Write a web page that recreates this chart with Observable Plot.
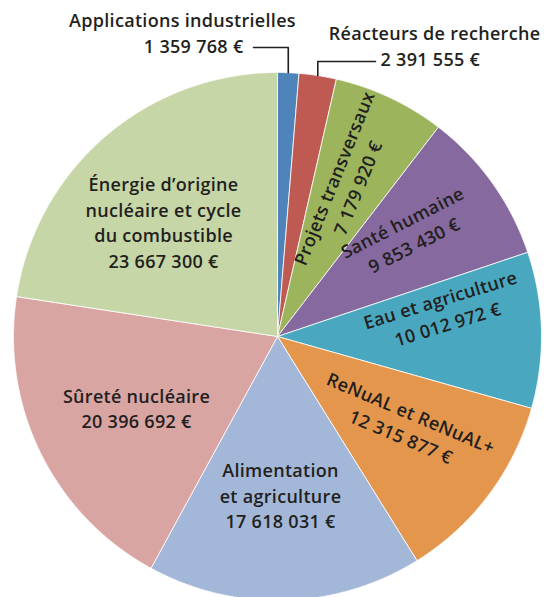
<!DOCTYPE html>
<html><head><meta charset="utf-8">
<script src="https://cdn.jsdelivr.net/npm/d3@7"></script>
<script src="https://cdn.jsdelivr.net/npm/@observablehq/plot@0.6"></script>
<style>body{margin:0;background:#fff}svg{display:block}svg text{letter-spacing:0.3px}</style>
</head><body><div id="chart"></div>
<script>
// ---- data ----
const categories = ["Applications industrielles","Réacteurs de recherche","Projets transversaux","Santé humaine","Eau et agriculture","ReNuAL et ReNuAL+","Alimentation et agriculture","Sûreté nucléaire","Énergie d’origine nucléaire et cycle du combustible"];
const values = [1359768,2391555,7179920,9853430,10012972,12315877,17618031,20396692,23667300];
const labelNames = ["Applications industrielles","Réacteurs de recherche","Projets transversaux","Santé humaine","Eau et agriculture","ReNuAL et ReNuAL+","Alimentation\net agriculture","Sûreté nucléaire","Énergie d’origine\nnucléaire et cycle\ndu combustible"];
const colors = ["#4f84ba","#bf5a53","#9cb55c","#85699f","#49a8bf","#e4964c","#a3b8d8","#d9a5a3","#c6d6a7"];

// ---- layout (pixels) ----
const W = 544, H = 597, CX = 277, CY = 336, R = 264;
const ux = px => (px - CX) / R, uy = py => (CY - py) / R;
// inside labels: index, centre (px), rotation
const inside = [
  {i:2, x:344, y:182, rotate:-68},
  {i:3, x:407, y:232, rotate:-27},
  {i:4, x:443, y:310, rotate:-17},
  {i:5, x:406, y:423, rotate:23},
  {i:6, x:280, y:494, rotate:0},
  {i:7, x:136, y:407, rotate:0},
  {i:8, x:163, y:221, rotate:0}
];
// outside labels with leader lines
const outside = [
  {i:0, nameX:182, nameY:21, valX:243, valY:47, anchor:"end", lineY:47, lineX:253},
  {i:1, nameX:434, nameY:34, valX:380, valY:60, anchor:"start", lineY:61, lineX:375}
];

const fmt = d3.formatLocale({decimal:",", thousands:"\u00a0", grouping:[3], currency:["",""]}).format(",");
const money = v => fmt(v) + "\u00a0€";

const data = categories.map((c,i) => ({cat:c, value:values[i], name:labelNames[i]}));
const arcs = d3.pie().sort(null).value(d => d.value).startAngle(0).endAngle(2*Math.PI)(data);

const poly = arcs.flatMap(a => {
  const n = Math.max(4, Math.ceil((a.endAngle - a.startAngle) / 0.004));
  const pts = [{cat:a.data.cat, x:0, y:0}];
  for (let k = 0; k <= n; k++) {
    const t = a.startAngle + (a.endAngle - a.startAngle) * k / n;
    pts.push({cat:a.data.cat, x:Math.sin(t), y:Math.cos(t)});
  }
  pts.push({cat:a.data.cat, x:0, y:0});
  return pts;
});

const leaders = outside.flatMap(o => {
  const a = arcs[o.i], m = (a.startAngle + a.endAngle) / 2;
  const ex = Math.sin(m), ey = Math.cos(m);
  return [
    {k:o.i, x:ex, y:ey},
    {k:o.i, x:ex, y:uy(o.lineY)},
    {k:o.i, x:ux(o.lineX), y:uy(o.lineY)}
  ];
});

const insideText = inside.map(l => ({x:ux(l.x), y:uy(l.y), rotate:l.rotate, text:data[l.i].name + "\n" + money(data[l.i].value)}));
const outNames = outside.map(o => ({x:ux(o.nameX), y:uy(o.nameY), text:data[o.i].name}));
const outVals = outside.map(o => ({x:ux(o.valX), y:uy(o.valY), text:money(data[o.i].value), anchor:o.anchor}));

const font = {fontFamily:"'Open Sans', sans-serif", fontWeight:600, fontSize:18, fill:"#231f20"};

const chart = Plot.plot({
  width: W, height: H, margin: 0,
  x: {domain:[ux(0), ux(W)], range:[0, W], axis:null},
  y: {domain:[uy(H), uy(0)], range:[H, 0], axis:null},
  color: {domain: categories, range: colors},
  marks: [
    Plot.line(poly, {x:"x", y:"y", z:"cat", fill:"cat", stroke:"#fff", strokeWidth:0.8, strokeLinejoin:"round"}),
    Plot.line(leaders, {x:"x", y:"y", z:"k", stroke:"#231f20", strokeWidth:1.6}),
    Plot.text(insideText, {x:"x", y:"y", text:"text", rotate:"rotate", lineHeight:1.42, ...font}),
    Plot.text(outNames, {x:"x", y:"y", text:"text", ...font}),
    Plot.text(outVals.filter(d => d.anchor === "end"), {x:"x", y:"y", text:"text", textAnchor:"end", ...font}),
    Plot.text(outVals.filter(d => d.anchor === "start"), {x:"x", y:"y", text:"text", textAnchor:"start", ...font})
  ]
});
document.getElementById("chart").append(chart);
</script>
</body></html>
